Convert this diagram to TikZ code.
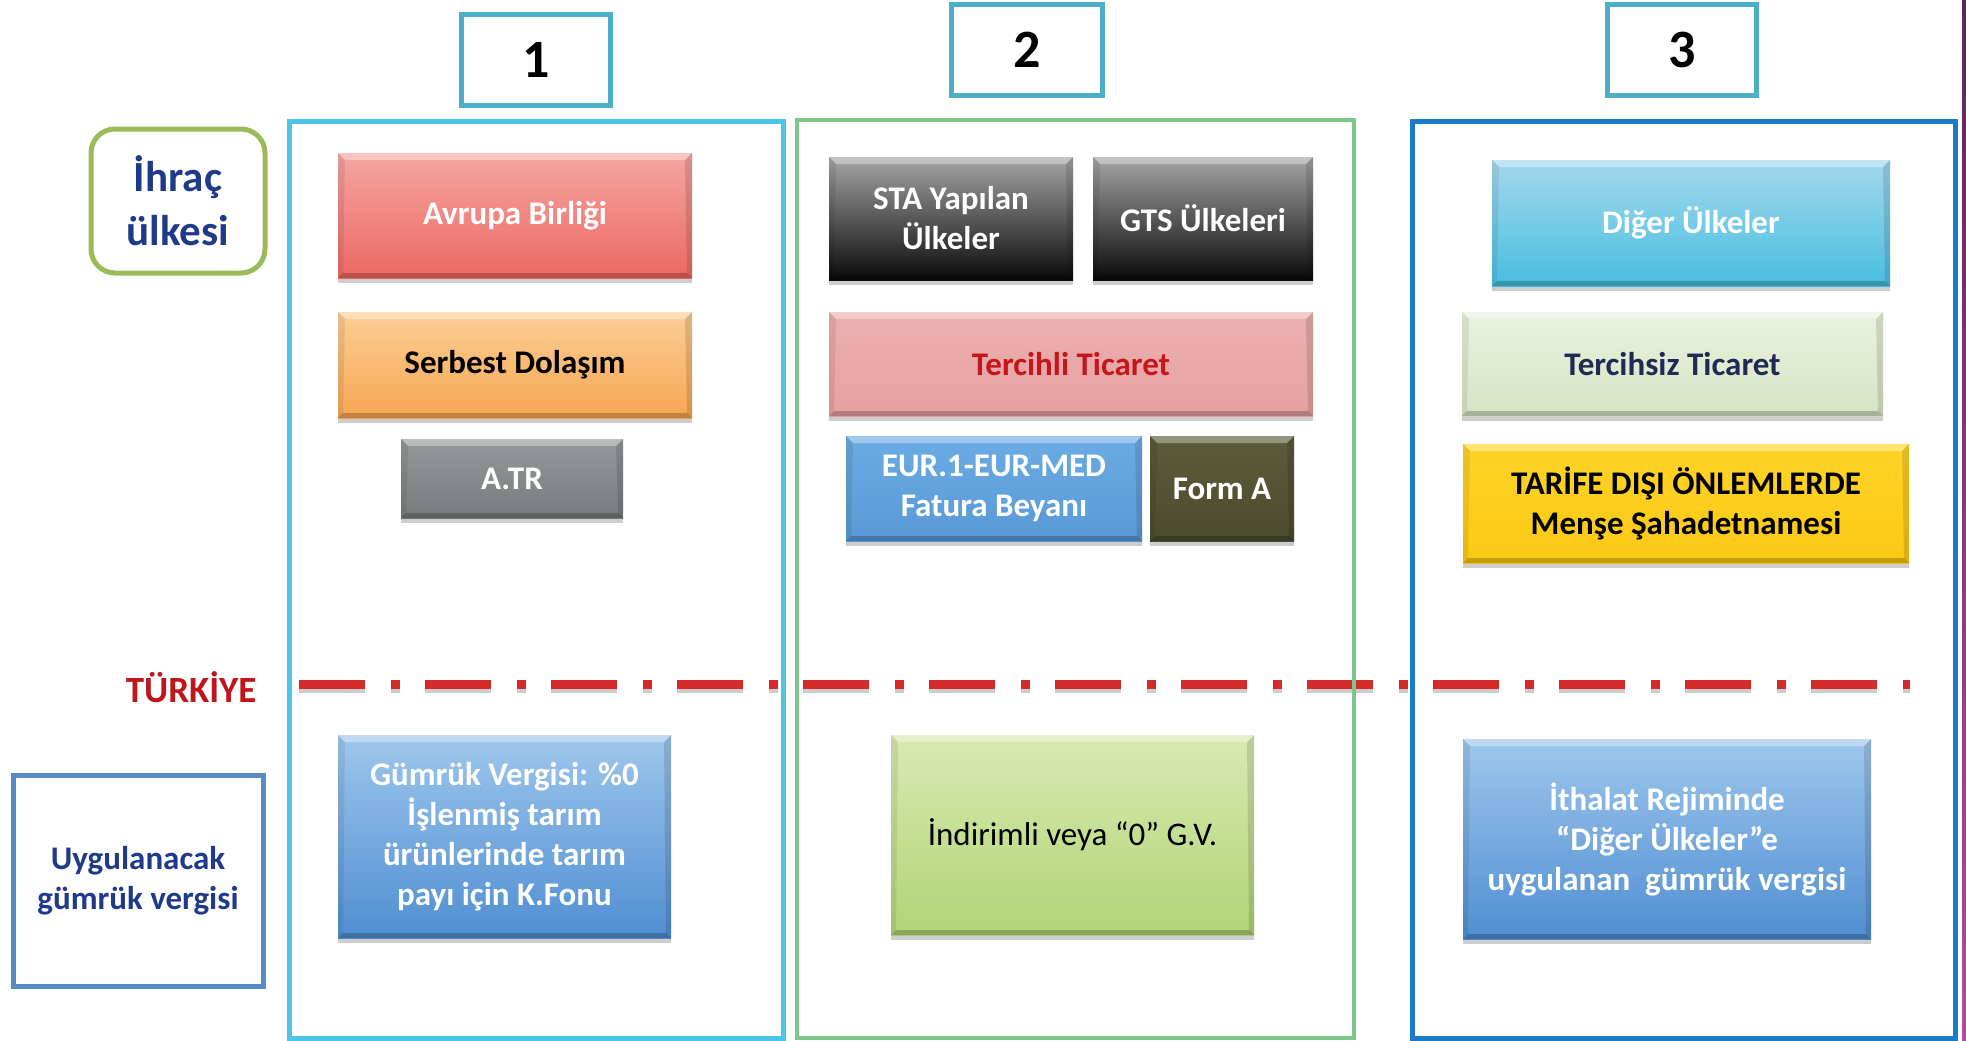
\documentclass[tikz,border=0pt]{standalone}
\usepackage{fontspec}
\setmainfont{Carlito}
\usetikzlibrary{shadows}
\definecolor{numfr}{HTML}{4BAFC8}
\definecolor{cola}{HTML}{4EC3E9}
\definecolor{colb}{HTML}{7CC68A}
\definecolor{colc}{HTML}{1A7BC6}
\definecolor{ihrfr}{HTML}{9BBB59}
\definecolor{uygfr}{HTML}{5A8CC4}
\definecolor{navy}{HTML}{1F3A8A}
\definecolor{darknavy}{HTML}{1F2A55}
\definecolor{trred}{HTML}{C0151B}
\definecolor{dashred}{HTML}{D42A2A}
\definecolor{purtop}{HTML}{5E2460}
\definecolor{purbot}{HTML}{B04AA8}
\tikzset{
  numbox/.style={draw=numfr, line width=5pt, fill=white, minimum width=149pt, minimum height=91pt,
    font=\fontsize{54}{60}\selectfont\bfseries, text=black},
  colframe/.style={draw, line width=5pt},
  gbox/.style={rectangle, draw=none, align=center, inner sep=2pt,
    font=\fontsize{33}{40}\selectfont\bfseries,
    drop shadow={shadow xshift=0pt, shadow yshift=-5pt, opacity=0.28, fill=black!70},
    path picture={
      \fill[white, opacity=0.35] (path picture bounding box.north west) -- (path picture bounding box.north east)
        -- ([xshift=-7pt,yshift=-7pt]path picture bounding box.north east) -- ([xshift=7pt,yshift=-7pt]path picture bounding box.north west) -- cycle;
      \fill[black, opacity=0.22] (path picture bounding box.south west) -- (path picture bounding box.south east)
        -- ([xshift=-5pt,yshift=5pt]path picture bounding box.south east) -- ([xshift=5pt,yshift=5pt]path picture bounding box.south west) -- cycle;
      \fill[black, opacity=0.12] (path picture bounding box.north east) -- (path picture bounding box.south east)
        -- ([xshift=-5pt,yshift=5pt]path picture bounding box.south east) -- ([xshift=-7pt,yshift=-7pt]path picture bounding box.north east) -- cycle;
      \fill[black, opacity=0.08] (path picture bounding box.north west) -- (path picture bounding box.south west)
        -- ([xshift=5pt,yshift=5pt]path picture bounding box.south west) -- ([xshift=7pt,yshift=-7pt]path picture bounding box.north west) -- cycle;
    }},
  sidebox/.style={align=center, line width=5pt, font=\fontsize{33}{40}\selectfont\bfseries, text=navy},
}
\begin{document}
\begin{tikzpicture}[x=1pt, y=-1pt]
\useasboundingbox[fill=white] (0,0) rectangle (1966,1041);
% right edge stripe
\shade[top color=purtop, bottom color=purbot] (1962,0) rectangle (1966,1041);

% dash-dot line (TÜRKİYE border)
\coordinate (dl) at (299,684);
\coordinate (dr) at (1910,684);
\draw[black!20, line width=9pt, dash pattern=on 66pt off 26pt on 9pt off 25pt] ([yshift=-4pt]dl) -- ([yshift=-4pt]dr);
\draw[dashred, line width=9pt, dash pattern=on 66pt off 26pt on 9pt off 25pt] (dl) -- (dr);

% column frames
\node[colframe, draw=cola, minimum width=494pt, minimum height=917pt] (col1) at (536,579.5) {};
\node[colframe, draw=colb, line width=4pt, minimum width=557pt, minimum height=918pt] (col2) at (1075.5,579) {};
\node[colframe, draw=colc, minimum width=543pt, minimum height=917pt] (col3) at (1683.5,579.5) {};

% number boxes
\node[numbox] (n1) at (536,60) {1};
\node[numbox, minimum width=151pt] (n2) at (1027,50) {2};
\node[numbox] (n3) at (1682,50) {3};

% side labels
\node[sidebox, draw=ihrfr, rounded corners=24pt, minimum width=174pt, minimum height=144pt,
  font=\fontsize{43}{54}\selectfont\bfseries] (ihr) at (178,201) {İhraç\\ülkesi};
\node[font=\fontsize{37}{44}\selectfont\bfseries, text=trred, anchor=east] (tr) at (260,687) {TÜRKİYE};
\node[sidebox, draw=uygfr, minimum width=250pt, minimum height=211pt] (uyg) at (138,880.5) {Uygulanacak\\gümrük vergisi};

% column 1
\node[gbox, top color={rgb,255:red,245;green,166;blue,162}, bottom color={rgb,255:red,236;green,104;blue,98},
  text=white, minimum width=354pt, minimum height=125pt] (ab) at (515,215.5) {Avrupa Birliği};
\node[gbox, top color={rgb,255:red,252;green,206;blue,150}, bottom color={rgb,255:red,246;green,166;blue,82},
  text=black, minimum width=354pt, minimum height=106pt] (sd) at (515,365) {Serbest Dolaşım};
\node[gbox, top color={rgb,255:red,150;green,153;blue,154}, bottom color={rgb,255:red,120;green,123;blue,124},
  text=white, minimum width=222pt, minimum height=79pt] (atr) at (512,478.5) {A.TR};
\node[gbox, top color={rgb,255:red,158;green,199;blue,236}, bottom color={rgb,255:red,80;green,142;blue,210},
  text=white, minimum width=333pt, minimum height=203pt] (gv) at (504.5,836.5)
  {Gümrük Vergisi: \%0\\İşlenmiş tarım\\ürünlerinde tarım\\payı için K.Fonu};

% column 2
\node[gbox, top color={rgb,255:red,165;green,165;blue,165}, bottom color={rgb,255:red,10;green,10;blue,10},
  text=white, minimum width=244pt, minimum height=123pt] (sta) at (951,218.5) {STA Yapılan\\Ülkeler};
\node[gbox, top color={rgb,255:red,165;green,165;blue,165}, bottom color={rgb,255:red,10;green,10;blue,10},
  text=white, minimum width=220pt, minimum height=123pt] (gts) at (1203,218.5) {GTS Ülkeleri};
\node[gbox, top color={rgb,255:red,236;green,176;blue,176}, bottom color={rgb,255:red,230;green,160;blue,160},
  text={rgb,255:red,196;green,22;blue,28}, minimum width=484pt, minimum height=104pt] (tt) at (1071,364) {Tercihli Ticaret};
\node[gbox, top color={rgb,255:red,108;green,172;blue,228}, bottom color={rgb,255:red,88;green,152;blue,214},
  text=white, minimum width=296pt, minimum height=105pt] (eur) at (994,488.5) {EUR.1-EUR-MED\\Fatura Beyanı};
\node[gbox, top color={rgb,255:red,90;green,92;blue,58}, bottom color={rgb,255:red,74;green,76;blue,46},
  text=white, minimum width=144pt, minimum height=105pt] (fa) at (1222,488.5) {Form A};
\node[gbox, top color={rgb,255:red,218;green,233;blue,178}, bottom color={rgb,255:red,176;green,212;blue,118},
  text=black, font=\fontsize{33}{40}\selectfont, minimum width=363pt, minimum height=200pt] (ind) at (1072.5,835)
  {İndirimli veya “0” G.V.};

% column 3
\node[gbox, top color={rgb,255:red,164;green,216;blue,236}, bottom color={rgb,255:red,72;green,190;blue,224},
  text=white, minimum width=398pt, minimum height=126pt] (du) at (1691,223) {Diğer Ülkeler};
\node[gbox, top color={rgb,255:red,234;green,242;blue,222}, bottom color={rgb,255:red,214;green,228;blue,196},
  text=darknavy, minimum width=421pt, minimum height=104pt] (ts) at (1672.5,364) {Tercihsiz Ticaret};
\node[gbox, top color={rgb,255:red,255;green,212;blue,40}, bottom color={rgb,255:red,252;green,200;blue,20},
  text=black, minimum width=446pt, minimum height=119pt] (tar) at (1686,503.5) {TARİFE DIŞI ÖNLEMLERDE\\Menşe Şahadetnamesi};
\node[gbox, top color={rgb,255:red,158;green,199;blue,236}, bottom color={rgb,255:red,80;green,142;blue,210},
  text=white, minimum width=408pt, minimum height=200pt] (ith) at (1667,839)
  {İthalat Rejiminde\\“Diğer Ülkeler”e\\uygulanan\ \ gümrük vergisi};
\end{tikzpicture}
\end{document}
